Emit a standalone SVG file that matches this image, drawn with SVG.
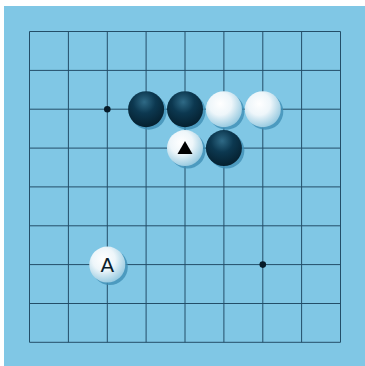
<svg xmlns="http://www.w3.org/2000/svg" width="365" height="366" viewBox="0 0 365 366">
<style>
.grid line{stroke:#234e68;stroke-width:1}
.shadow{fill:#3f8fb5;opacity:0.8}
.b{fill:url(#gb)}
.w{fill:url(#gw)}
.lbl{font-family:"DejaVu Sans",Arial,sans-serif;font-size:20px;fill:#0b1e2c;text-anchor:middle}
</style>
<defs>
<radialGradient id="gb" cx="0.45" cy="0.3" r="0.7">
<stop offset="0" stop-color="#2f6a86"/>
<stop offset="0.45" stop-color="#0c3850"/>
<stop offset="1" stop-color="#05202f"/>
</radialGradient>
<radialGradient id="gw" cx="0.4" cy="0.35" r="0.7">
<stop offset="0" stop-color="#ffffff"/>
<stop offset="0.45" stop-color="#eef6fa"/>
<stop offset="1" stop-color="#8fc6de"/>
</radialGradient>
</defs>
<rect x="0" y="0" width="365" height="366" fill="#ffffff"/>
<rect x="4" y="6" width="361" height="360" fill="#80c7e5"/>
<g id="grid" class="grid">
<line x1="29.5" y1="31.5" x2="340.5" y2="31.5"/>
<line x1="29.5" y1="70.4" x2="340.5" y2="70.4"/>
<line x1="29.5" y1="109.2" x2="340.5" y2="109.2"/>
<line x1="29.5" y1="148.1" x2="340.5" y2="148.1"/>
<line x1="29.5" y1="186.9" x2="340.5" y2="186.9"/>
<line x1="29.5" y1="225.8" x2="340.5" y2="225.8"/>
<line x1="29.5" y1="264.6" x2="340.5" y2="264.6"/>
<line x1="29.5" y1="303.5" x2="340.5" y2="303.5"/>
<line x1="29.5" y1="342.3" x2="340.5" y2="342.3"/>
<line x1="29.5" y1="31.5" x2="29.5" y2="342.3"/>
<line x1="68.4" y1="31.5" x2="68.4" y2="342.3"/>
<line x1="107.3" y1="31.5" x2="107.3" y2="342.3"/>
<line x1="146.1" y1="31.5" x2="146.1" y2="342.3"/>
<line x1="185" y1="31.5" x2="185" y2="342.3"/>
<line x1="223.9" y1="31.5" x2="223.9" y2="342.3"/>
<line x1="262.8" y1="31.5" x2="262.8" y2="342.3"/>
<line x1="301.6" y1="31.5" x2="301.6" y2="342.3"/>
<line x1="340.5" y1="31.5" x2="340.5" y2="342.3"/>
</g>
<g id="hoshi" fill="#061c2a">
<circle cx="107.3" cy="109.2" r="3.3"/>
<circle cx="262.8" cy="264.6" r="3.3"/>
</g>
<g id="stone-b1"><circle class="shadow" cx="148.6" cy="111.7" r="18"/><circle class="b" cx="146.1" cy="109.2" r="18"/></g>
<g id="stone-b2"><circle class="shadow" cx="187.5" cy="111.7" r="18"/><circle class="b" cx="185" cy="109.2" r="18"/></g>
<g id="stone-w1"><circle class="shadow" cx="226.4" cy="111.7" r="18"/><circle class="w" cx="223.9" cy="109.2" r="18"/></g>
<g id="stone-w2"><circle class="shadow" cx="265.3" cy="111.7" r="18"/><circle class="w" cx="262.8" cy="109.2" r="18"/></g>
<g id="stone-w3"><circle class="shadow" cx="187.5" cy="150.6" r="18"/><circle class="w" cx="185" cy="148.1" r="18"/><polygon points="185,141 192.5,154 177.5,154" fill="#000"/></g>
<g id="stone-b3"><circle class="shadow" cx="226.4" cy="150.6" r="18"/><circle class="b" cx="223.9" cy="148.1" r="18"/></g>
<g id="stone-A"><circle class="shadow" cx="109.8" cy="267.1" r="18"/><circle class="w" cx="107.3" cy="264.6" r="18"/><text class="lbl" x="107.3" y="271.8">A</text></g>
</svg>
